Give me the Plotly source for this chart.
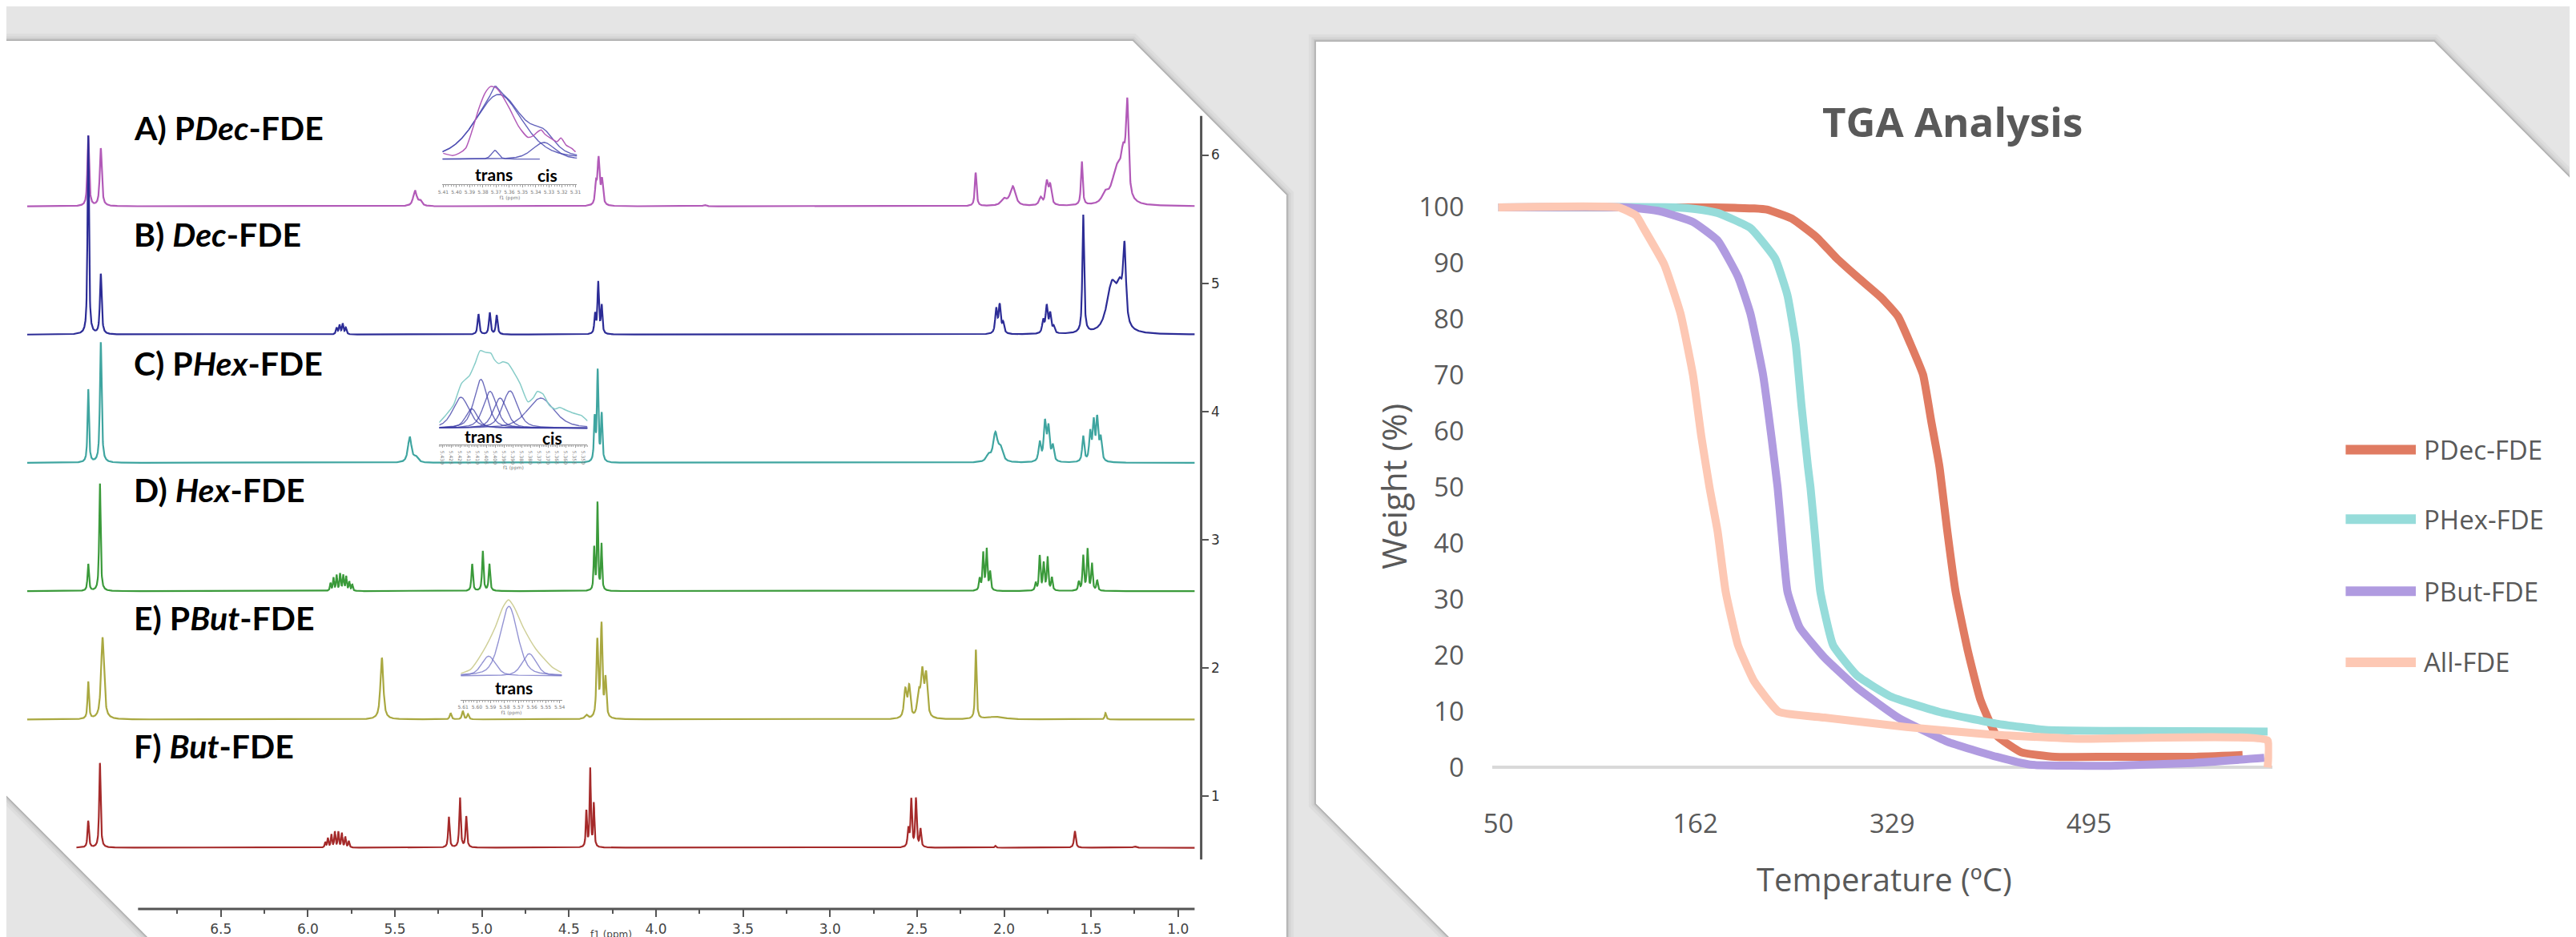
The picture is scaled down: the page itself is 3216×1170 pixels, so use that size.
import numpy as np
import plotly.graph_objects as go

W, H = 3216, 1170
def px(x): return x / W
def py(y): return 1 - y / H

# ---------------- NMR data (ppm, height, half-width) ----------------
nmr_names = ["A) P<i>Dec</i>-FDE", "B) <i>Dec</i>-FDE", "C) P<i>Hex</i>-FDE",
             "D) <i>Hex</i>-FDE", "E) P<i>But</i>-FDE", "F) <i>But</i>-FDE"]
nmr_colors = ["#B25AB8", "#2C2C96", "#3FA5A0", "#3A9A3A", "#A9A840", "#A52A2A"]
nmr_offsets = [5.6, 4.6, 3.6, 2.6, 1.6, 0.6]
nmr_label_y = [6.21, 5.38, 4.38, 3.39, 2.39, 1.39]
nmr_start_ppm = [7.613, 7.613, 7.613, 7.613, 7.613, 7.33]

specA_ppm = [7.262, 7.190, 5.385, 5.355, 4.345, 4.330, 4.310, 3.72, 2.163, 2.00, 1.950, 1.79, 1.755, 1.735, 1.553, 1.292, 1.315, 1.35, 1.42]
specA_h   = [0.55, 0.45, 0.12, 0.04, 0.15, 0.36, 0.19, 0.01, 0.26, 0.05, 0.15, 0.06, 0.18, 0.15, 0.34, 0.70, 0.28, 0.28, 0.07]
specA_w   = [0.006, 0.007, 0.012, 0.012, 0.006, 0.007, 0.007, 0.01, 0.006, 0.02, 0.018, 0.01, 0.009, 0.009, 0.006, 0.009, 0.015, 0.035, 0.02]

specB_ppm = [7.262, 7.190, 5.835, 5.818, 5.800, 5.782, 5.020, 4.955, 4.915, 4.350, 4.332, 4.312, 2.045, 2.025, 2.005, 1.775, 1.755, 1.735, 1.715, 1.545, 1.308, 1.335, 1.38]
specB_h   = [1.55, 0.47, 0.05, 0.07, 0.08, 0.05, 0.16, 0.17, 0.15, 0.15, 0.40, 0.22, 0.19, 0.22, 0.08, 0.10, 0.21, 0.15, 0.05, 0.92, 0.58, 0.25, 0.38]
specB_w   = [0.005, 0.006, 0.005, 0.005, 0.005, 0.005, 0.006, 0.006, 0.006, 0.005, 0.005, 0.005, 0.007, 0.007, 0.007, 0.007, 0.007, 0.007, 0.007, 0.006, 0.010, 0.02, 0.035]

specC_ppm = [7.262, 7.190, 5.415, 5.38, 4.352, 4.335, 4.312, 2.05, 2.02, 2.09, 1.795, 1.765, 1.745, 1.72, 1.545, 1.505, 1.485, 1.465, 1.445]
specC_h   = [0.57, 0.94, 0.20, 0.04, 0.33, 0.70, 0.37, 0.22, 0.10, 0.05, 0.15, 0.30, 0.26, 0.12, 0.20, 0.22, 0.30, 0.32, 0.18]
specC_w   = [0.005, 0.006, 0.012, 0.015, 0.005, 0.005, 0.005, 0.015, 0.015, 0.015, 0.008, 0.008, 0.008, 0.008, 0.007, 0.007, 0.007, 0.007, 0.008]

specD_ppm = [7.262, 7.195, 5.870, 5.853, 5.835, 5.815, 5.797, 5.780, 5.762, 5.745, 5.056, 4.995, 4.957, 4.355, 4.336, 4.313,
             2.14, 2.12, 2.10, 2.08, 1.818, 1.795, 1.772, 1.75, 1.725, 1.57, 1.545, 1.52, 1.495, 1.465]
specD_h   = [0.21, 0.84, 0.06, 0.10, 0.12, 0.13, 0.12, 0.11, 0.07, 0.05, 0.21, 0.31, 0.21, 0.33, 0.68, 0.36,
             0.09, 0.29, 0.32, 0.14, 0.06, 0.27, 0.21, 0.26, 0.10, 0.07, 0.27, 0.32, 0.21, 0.08]
specD_w   = [0.005, 0.005] + [0.004] * 8 + [0.005] * 3 + [0.004] * 3 + [0.005] * 14

specE_ppm = [7.262, 7.180, 5.575, 5.18, 5.11, 5.08, 4.40, 4.337, 4.313, 4.29, 2.567, 2.545, 2.49, 2.47, 2.448, 2.162, 2.05, 1.417]
specE_h   = [0.29, 0.64, 0.48, 0.05, 0.065, 0.04, 0.03, 0.60, 0.72, 0.30, 0.22, 0.24, 0.18, 0.34, 0.33, 0.54, 0.02, 0.05]
specE_w   = [0.005, 0.010, 0.010, 0.006, 0.006, 0.006, 0.01, 0.006, 0.006, 0.006, 0.009, 0.008, 0.01, 0.009, 0.009, 0.005, 0.06, 0.005]

specF_ppm = [7.262, 7.195, 5.90, 5.885, 5.865, 5.845, 5.825, 5.805, 5.785, 5.765, 5.19, 5.126, 5.09, 4.40, 4.378, 4.357,
             2.55, 2.533, 2.506, 2.48, 2.05, 1.593, 1.25]
specF_h   = [0.21, 0.66, 0.04, 0.07, 0.10, 0.12, 0.12, 0.11, 0.08, 0.05, 0.24, 0.39, 0.24, 0.28, 0.61, 0.34,
             0.14, 0.37, 0.38, 0.14, 0.015, 0.13, 0.01]
specF_w   = [0.005, 0.005] + [0.004] * 8 + [0.005] * 3 + [0.004] * 3 + [0.005] * 4 + [0.005, 0.006, 0.01]

spectra = [(specA_ppm, specA_h, specA_w), (specB_ppm, specB_h, specB_w), (specC_ppm, specC_h, specC_w),
           (specD_ppm, specD_h, specD_w), (specE_ppm, specE_h, specE_w), (specF_ppm, specF_h, specF_w)]

nmr_x_ticks = [6.5, 6.0, 5.5, 5.0, 4.5, 4.0, 3.5, 3.0, 2.5, 2.0, 1.5, 1.0]
nmr_x_minor = [6.75, 6.25, 5.75, 5.25, 4.75, 4.25, 3.75, 3.25, 2.75, 2.25, 1.75, 1.25]
nmr_y_ticks = [1, 2, 3, 4, 5, 6]

# ---------------- Inset data ----------------
insetA_exp_ppm = [5.410, 5.403, 5.398, 5.393, 5.388, 5.383, 5.378, 5.374, 5.370, 5.366, 5.360, 5.353, 5.346, 5.342,
                  5.339, 5.336, 5.333, 5.329, 5.324, 5.321, 5.317, 5.313, 5.310]
insetA_exp_int = [0.08, 0.05, 0.08, 0.15, 0.40, 0.70, 0.92, 1.00, 0.98, 0.89, 0.70, 0.45, 0.30, 0.32,
                  0.37, 0.40, 0.34, 0.29, 0.24, 0.29, 0.19, 0.15, 0.10]
insetA_fit_ppm = [5.368, 5.371, 5.334]
insetA_fit_h = [0.89, 0.12, 0.23]
insetA_fit_w = [0.021, 0.003, 0.010]

insetC_exp_ppm = [5.4321, 5.4284, 5.4239, 5.4194, 5.4148, 5.4117, 5.4088, 5.4058, 5.4028, 5.4008, 5.3983, 5.3959, 5.3930,
                  5.3900, 5.3862, 5.3817, 5.3787, 5.3764, 5.3733, 5.3697, 5.3665, 5.3637, 5.3606, 5.3561, 5.3516, 5.3479]
insetC_exp_int = [0.07, 0.16, 0.29, 0.56, 0.66, 0.81, 0.97, 0.95, 0.94, 0.86, 0.81, 0.83, 0.81,
                  0.71, 0.56, 0.33, 0.38, 0.46, 0.43, 0.29, 0.24, 0.26, 0.23, 0.19, 0.16, 0.09]
insetC_fit_ppm = [5.4197, 5.4136, 5.4084, 5.4032, 5.3975, 5.3919, 5.3745]
insetC_fit_h = [0.387, 0.243, 0.61, 0.46, 0.377, 0.467, 0.377]
insetC_fit_w = [0.0055, 0.004, 0.0045, 0.0045, 0.0045, 0.005, 0.009]

insetE_exp_ppm = [5.6117, 5.6046, 5.5957, 5.5869, 5.5811, 5.5770, 5.5730, 5.5662, 5.5574, 5.5455, 5.5385]
insetE_exp_int = [0.03, 0.08, 0.30, 0.60, 0.86, 0.95, 0.86, 0.60, 0.34, 0.11, 0.04]
insetE_fit_ppm = [5.5768, 5.5915, 5.562]
insetE_fit_h = [0.87, 0.246, 0.276]
insetE_fit_w = [0.0075, 0.006, 0.006]

# ---------------- TGA data ----------------
tga_names = ["PDec-FDE", "PHex-FDE", "PBut-FDE", "All-FDE"]
tga_colors = ["#E07B62", "#96DCDA", "#B09BE0", "#FDC8B4"]
tga_tick_labels = ["50", "162", "329", "495"]
# x = position along the category axis, in units of the label interval
pdec_pos = [0, 1.00, 1.10, 1.20, 1.30, 1.363, 1.49, 1.615, 1.718, 1.822, 1.947, 2.03, 2.093, 2.157, 2.198, 2.24, 2.28, 2.322, 2.385, 2.448, 2.53, 2.656, 2.825, 3.10, 3.53, 3.78]
pdec_wt  = [100, 100, 100, 99.9, 99.8, 99.6, 98, 94.7, 90.9, 87.6, 83.8, 80.5, 75.6, 70.1, 61.9, 53.7, 42.2, 31.4, 20.7, 12.1, 5.7, 2.7, 1.9, 1.9, 1.9, 2.2]
phex_pos = [0, 0.90, 1.0, 1.113, 1.28, 1.405, 1.468, 1.51, 1.539, 1.572, 1.585, 1.606, 1.635, 1.70, 1.822, 1.99, 2.24, 2.53, 2.78, 3.2, 3.907]
phex_wt  = [100, 100, 99.7, 99.0, 96.3, 90.9, 84.3, 75.6, 64.7, 53.7, 50, 42.2, 31.4, 21.8, 16.4, 12.7, 9.9, 7.8, 6.7, 6.5, 6.4]
pbut_pos = [0, 0.654, 0.821, 0.988, 1.113, 1.217, 1.28, 1.344, 1.386, 1.418, 1.438, 1.468, 1.53, 1.656, 1.822, 2.03, 2.28, 2.53, 2.70, 3.11, 3.53, 3.89]
pbut_wt  = [100, 100, 99.3, 97.4, 94.1, 87.6, 81, 70.1, 59.2, 50, 42.2, 31.4, 25, 19.6, 14.2, 8.9, 4.6, 1.9, 0.5, 0.3, 0.8, 1.7]
all_pos  = [0, 0.61, 0.70, 0.737, 0.842, 0.925, 0.988, 1.03, 1.072, 1.113, 1.154, 1.217, 1.30, 1.425, 1.656, 2.073, 2.49, 2.947, 3.907, 3.907]
all_wt   = [100, 100, 98.5, 96.3, 89.8, 81, 70.1, 59.2, 50, 42.2, 31.4, 21.8, 15.3, 9.9, 8.9, 7.2, 5.9, 5.1, 4.8, 0]
tga_series = [(pdec_pos, pdec_wt), (phex_pos, phex_wt), (pbut_pos, pbut_wt), (all_pos, all_wt)]


def lineshape(x, c, h, w, eta=0.8):
    d = (x - c) / w
    return h * (eta / (1 + d * d) + (1 - eta) * np.exp(-np.log(2) * d * d))


fig = go.Figure()

# ---- NMR spectra ----
for i in range(6):
    pp, hh, ww = spectra[i]
    x = np.linspace(nmr_start_ppm[i], 0.904, 6000)
    y = np.full_like(x, nmr_offsets[i])
    for c, h, w in zip(pp, hh, ww):
        y = y + lineshape(x, c, h, w)
    fig.add_trace(go.Scatter(x=x, y=y, mode="lines", line=dict(color=nmr_colors[i], width=2.2),
                             xaxis="x", yaxis="y", showlegend=False, hoverinfo="skip"))

# ---- insets ----
def add_inset(xa, ya, exp_ppm, exp_int, exp_color, fit_ppm, fit_h, fit_w, fit_color, xr, eta, add_sum=False, partial=None):
    xs = np.linspace(xr[0], xr[1], 600)
    for k, (c, h, w) in enumerate(zip(fit_ppm, fit_h, fit_w)):
        xx = xs
        if partial is not None and k == partial[0]:
            xx = xs[xs >= partial[1]]
        fig.add_trace(go.Scatter(x=xx, y=lineshape(xx, c, h, w, eta), mode="lines",
                                 line=dict(color=fit_color, width=1.4), xaxis=xa, yaxis=ya,
                                 showlegend=False, hoverinfo="skip"))
    if add_sum:
        tot = np.zeros_like(xs)
        for c, h, w in zip(fit_ppm, fit_h, fit_w):
            tot = tot + lineshape(xs, c, h, w, eta)
        fig.add_trace(go.Scatter(x=xs, y=tot, mode="lines", line=dict(color=fit_color, width=1.4),
                                 xaxis=xa, yaxis=ya, showlegend=False, hoverinfo="skip"))
    fig.add_trace(go.Scatter(x=exp_ppm, y=exp_int, mode="lines", line=dict(color=exp_color, width=1.5, shape="spline", smoothing=0.6),
                             xaxis=xa, yaxis=ya, showlegend=False, hoverinfo="skip"))

add_inset("x2", "y2", insetA_exp_ppm, insetA_exp_int, "#B25AB8", insetA_fit_ppm, insetA_fit_h, insetA_fit_w,
          "rgba(70,70,175,0.85)", (5.4106, 5.3088), 0.4, add_sum=True, partial=(1, 5.337))
add_inset("x3", "y3", insetC_exp_ppm, insetC_exp_int, "#86CCC8", insetC_fit_ppm, insetC_fit_h, insetC_fit_w,
          "rgba(60,60,165,0.75)", (5.432, 5.348), 0.5)
add_inset("x4", "y4", insetE_exp_ppm, insetE_exp_int, "#CFCF98", insetE_fit_ppm, insetE_fit_h, insetE_fit_w,
          "rgba(120,120,200,0.8)", (5.6117, 5.5383), 0.4)

# ---- TGA ----
for name, col, (xx, yy) in zip(tga_names, tga_colors, tga_series):
    fig.add_trace(go.Scatter(x=xx, y=yy, mode="lines", name=name,
                             line=dict(color=col, width=10, shape="spline", smoothing=0.4),
                             xaxis="x5", yaxis="y5", showlegend=False))

# ---------------- panels (background shapes) ----------------
left_pts = [(-40, 41), (1402, 41), (1595, 234), (1595, 1210), (213, 1210), (-40, 957)]
right_pts = [(1632, 42), (3035, 42), (3256, 263), (3256, 1210), (1846, 1210), (1632, 996)]

def path_of(pts):
    return "M " + " L ".join(f"{px(x):.6f},{py(y):.6f}" for x, y in pts) + " Z"

shapes = []
for pts in (left_pts, right_pts):
    p = path_of(pts)
    for wdt, col in [(18, "rgba(0,0,0,0.03)"), (11, "rgba(0,0,0,0.04)"), (6, "rgba(0,0,0,0.06)"), (3, "rgba(0,0,0,0.12)")]:
        shapes.append(dict(type="path", path=p, xref="paper", yref="paper",
                           line=dict(color=col, width=wdt), fillcolor="rgba(0,0,0,0)", layer="below"))
    shapes.append(dict(type="path", path=p, xref="paper", yref="paper",
                       line=dict(width=0), fillcolor="white", layer="below"))

# NMR axis lines
shapes.append(dict(type="line", xref="x", yref="paper", x0=6.976, x1=0.904, y0=py(1128), y1=py(1128),
                   line=dict(color="#555555", width=3)))
shapes.append(dict(type="line", xref="paper", yref="y", x0=px(1488), x1=px(1488), y0=0.508, y1=6.305,
                   line=dict(color="#555555", width=3)))

# TGA custom legend samples
legend_y = [553, 640, 730, 819]
for col, ly in zip(tga_colors, legend_y):
    shapes.append(dict(type="line", xref="paper", yref="paper", x0=px(2924), x1=px(3012), y0=py(ly), y1=py(ly),
                       line=dict(color=col, width=12)))

annotations = []
for name, ly in zip(nmr_names, nmr_label_y):
    annotations.append(dict(text="<b>" + name + "</b>", xref="paper", yref="y", x=px(147), y=ly,
                            xanchor="left", yanchor="middle", showarrow=False,
                            font=dict(family="Lato, Carlito, sans-serif", size=41, color="black")))
# inset labels
for txt, x, y in [("trans", 600, 208), ("cis", 668, 209), ("trans", 587, 536), ("cis", 674, 538), ("trans", 626, 851)]:
    annotations.append(dict(text="<b>" + txt + "</b>", xref="paper", yref="paper", x=px(x), y=py(y),
                            xanchor="center", yanchor="middle", showarrow=False,
                            font=dict(family="Lato, sans-serif", size=21, color="black")))
annotations.append(dict(text="f1 (ppm)", xref="paper", yref="paper", x=px(748), y=py(1169),
                        xanchor="center", yanchor="bottom", showarrow=False,
                        font=dict(family="DejaVu Sans", size=12, color="#444444")))
# TGA texts
annotations.append(dict(text="<b>TGA Analysis</b>", xref="paper", yref="paper", x=px(2431), y=py(141),
                        xanchor="center", yanchor="middle", showarrow=False,
                        font=dict(family="Open Sans", size=51, color="#595959")))
annotations.append(dict(text="Temperature (ºC)", xref="paper", yref="paper", x=px(2345), y=py(1090),
                        xanchor="center", yanchor="middle", showarrow=False,
                        font=dict(family="Open Sans", size=40, color="#595959")))
annotations.append(dict(text="Weight (%)", xref="paper", yref="paper", x=px(1729), y=py(599),
                        xanchor="center", yanchor="middle", showarrow=False, textangle=-90,
                        font=dict(family="Open Sans", size=42, color="#595959")))
for name, ly in zip(tga_names, legend_y):
    annotations.append(dict(text=name, xref="paper", yref="paper", x=px(3020), y=py(ly),
                            xanchor="left", yanchor="middle", showarrow=False,
                            font=dict(family="Open Sans", size=33, color="#595959")))

inset_font = dict(family="DejaVu Sans", size=6, color="#777777")
def inset_xaxis(dom, rng, dtick, minor, fmt, anchor):
    return dict(domain=dom, range=rng, anchor=anchor, showgrid=False, zeroline=False,
                showline=True, linecolor="#999999", linewidth=1, ticks="outside", ticklen=3,
                tickcolor="#999999", tickwidth=1, tick0=5.0, dtick=dtick, tickformat=fmt,
                tickfont=inset_font, minor=dict(ticks="outside", ticklen=2, dtick=minor, tickcolor="#aaaaaa"),
                title=dict(text="f1 (ppm)", font=dict(family="DejaVu Sans", size=6, color="#777777"), standoff=1))
def inset_yaxis(dom, rng, anchor):
    return dict(domain=dom, range=rng, anchor=anchor, visible=False)

fig.update_layout(
    width=W, height=H, margin=dict(l=0, r=0, t=0, b=0),
    paper_bgcolor="#E5E5E5", plot_bgcolor="rgba(0,0,0,0)",
    showlegend=False,
    shapes=shapes, annotations=annotations,
    xaxis=dict(domain=[px(15), px(1480)], range=[7.613, 0.904], anchor="y",
               showgrid=False, zeroline=False, showline=False,
               tickmode="array", tickvals=nmr_x_ticks, ticktext=[f"{v:.1f}" for v in nmr_x_ticks],
               ticks="outside", ticklen=9, tickwidth=2, tickcolor="#555555",
               tickfont=dict(family="DejaVu Sans", size=17, color="#444444"),
               minor=dict(tickmode="array", tickvals=nmr_x_minor, ticks="outside", ticklen=5,
                          tickwidth=2, tickcolor="#555555", showgrid=False)),
    yaxis=dict(domain=[py(1128), py(70)], range=[0.1220, 6.7098], anchor="free", position=px(1488),
               side="right", showgrid=False, zeroline=False, showline=False,
               tickmode="array", tickvals=nmr_y_ticks, ticks="outside", ticklen=8, tickwidth=2,
               tickcolor="#555555", tickfont=dict(family="DejaVu Sans", size=17, color="#333333")),
    xaxis2=inset_xaxis([px(536), px(705)], [5.4106, 5.3088], 0.01, 0.002, ".2f", "y2"),
    yaxis2=inset_yaxis([py(221), py(93.6)], [-0.35, 1.05], "x2"),
    xaxis3=inset_xaxis([px(532), px(718)], [5.432, 5.348], 0.005, 0.001, ".3f", "y3"),
    yaxis3=inset_yaxis([py(546), py(420)], [-0.2, 1.06], "x3"),
    xaxis4=inset_xaxis([px(559), px(686)], [5.6117, 5.5383], 0.01, 0.002, ".2f", "y4"),
    yaxis4=inset_yaxis([py(866), py(735)], [-0.3, 1.01], "x4"),
    xaxis5=dict(domain=[px(1853.6), px(2831.7)], range=[-0.03, 3.93], anchor="y5",
                showgrid=False, zeroline=False, showline=False,
                tickmode="array", tickvals=[0, 1, 2, 3], ticktext=tga_tick_labels,
                ticks="outside", ticklen=20, tickcolor="rgba(0,0,0,0)",
                tickfont=dict(family="Open Sans", size=33, color="#595959")),
    yaxis5=dict(domain=[py(971.7), py(228.5)], range=[-3, 103], anchor="x5",
                showgrid=False, showline=False, zeroline=True, zerolinecolor="#D9D9D9", zerolinewidth=4,
                tickmode="array", tickvals=list(range(0, 101, 10)),
                ticks="outside", ticklen=28, tickcolor="rgba(0,0,0,0)",
                tickfont=dict(family="Open Sans", size=33, color="#595959")),
)

fig.write_html("out.html")
